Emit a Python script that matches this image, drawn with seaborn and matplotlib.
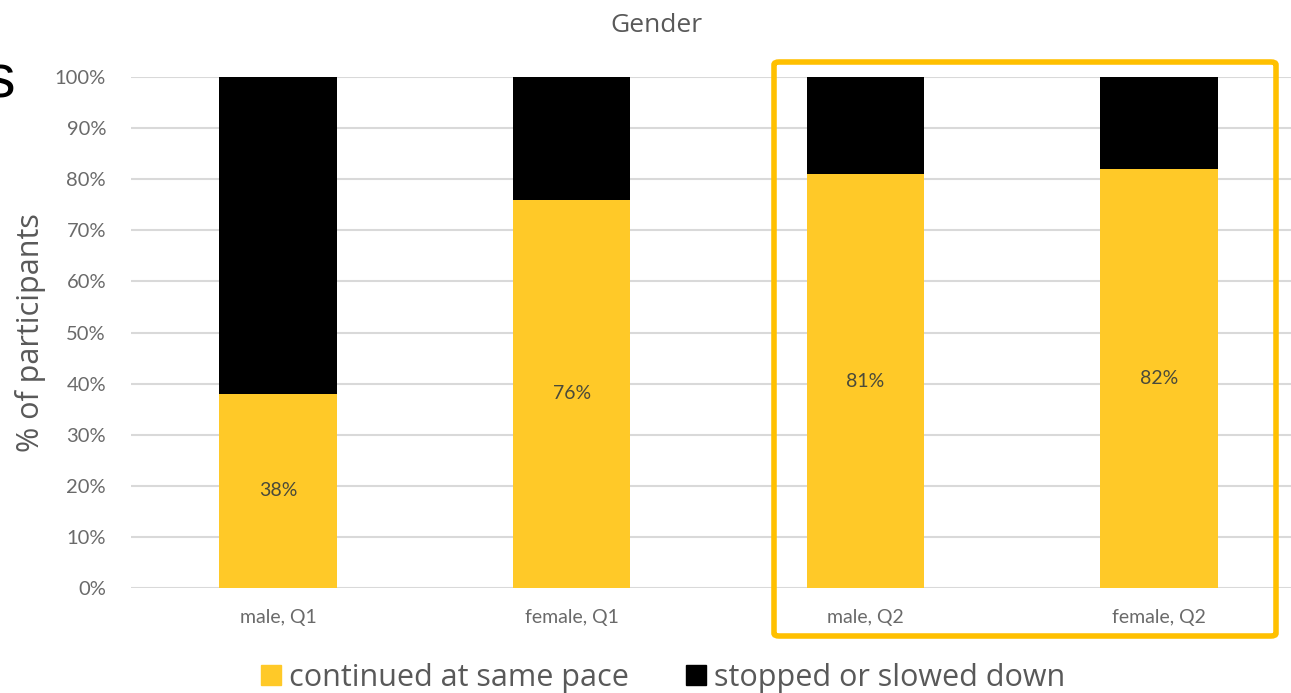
import matplotlib
matplotlib.use("Agg")
import matplotlib.pyplot as plt
from matplotlib.patches import FancyBboxPatch
from matplotlib.lines import Line2D
import seaborn as sns
import pandas as pd

# Survey responses by gender and quarter (% of participants)
groups = ["male, Q1", "female, Q1", "male, Q2", "female, Q2"]
continued = [38, 76, 81, 82]
stopped = [62, 24, 19, 18]
series_names = ["continued at same pace", "stopped or slowed down"]

YELLOW = "#FFC928"
BLACK = "#000000"
GREY = "#595959"
TICK_GREY = "#6a6a6a"

sns.set_theme(style="white")
plt.rcParams["font.family"] = ["Lato", "DejaVu Sans"]
HEAD_FONT = ["Open Sans", "DejaVu Sans"]

df = pd.DataFrame({"group": groups, "continued": continued, "stopped": stopped})
df["total"] = df["continued"] + df["stopped"]

fig = plt.figure(figsize=(12.91, 6.93), dpi=100)
ax = fig.add_axes([131 / 1291, 105 / 693, 1175 / 1291, 511 / 693])

# stacked: full-height black segment, yellow share drawn over it
sns.barplot(data=df, x="group", y="total", color=BLACK, width=0.4,
            saturation=1, linewidth=0, edgecolor="none", ax=ax, zorder=2)
sns.barplot(data=df, x="group", y="continued", color=YELLOW, width=0.4,
            saturation=1, linewidth=0, edgecolor="none", ax=ax, zorder=3)

ax.set_ylim(0, 100)
ax.set_xlim(-0.5, 3.5)
ax.set_yticks(range(0, 101, 10))
ax.set_yticklabels([f"{v}%" for v in range(0, 101, 10)])
ax.yaxis.grid(True, color="#d9d9d9", linewidth=1.5, zorder=0)
ax.set_axisbelow(True)
for s in ax.spines.values():
    s.set_visible(False)
ax.tick_params(axis="both", length=0, colors=TICK_GREY)
ax.tick_params(axis="x", labelsize=14, pad=15)
ax.tick_params(axis="y", labelsize=14.5, pad=18)
ax.set_xlabel("")
ax.set_ylabel("% of participants", fontsize=22, color=GREY, labelpad=6,
              family=HEAD_FONT)

# value labels centred in the yellow segments
for i, v in enumerate(continued):
    ax.text(i, v / 2, f"{v}%", ha="center", va="center", fontsize=14,
            color="#4a4a3a", zorder=4)

fig.text(656 / 1291, 1 - 25 / 693, "Gender", ha="center", va="center",
         fontsize=19, color=GREY, family=HEAD_FONT)

# large heading fragment at the left edge
fig.text(-0.012, 1 - 82 / 693, "s", ha="left", va="center", fontsize=44,
         color="black", family=["Liberation Sans", "DejaVu Sans"])

handles = [Line2D([], [], marker="s", linestyle="", markersize=14,
                  markerfacecolor=c, markeredgecolor=c) for c in (YELLOW, BLACK)]
fig.legend(handles, series_names, loc="center", ncol=2,
           bbox_to_anchor=(662 / 1291, 1 - 678 / 693), frameon=False,
           prop={"family": HEAD_FONT, "size": 22}, labelcolor=GREY,
           handletextpad=0.2, columnspacing=1.8, handlelength=0.8)

# highlight frame around the Q2 bars
box = FancyBboxPatch((774 / 1291, 1 - 636 / 693), (1276 - 774) / 1291,
                     (636 - 62) / 693, boxstyle="round,pad=0,rounding_size=0.004",
                     transform=fig.transFigure, fill=False, edgecolor="#FFC000",
                     linewidth=4, zorder=10)
fig.patches.append(box)

fig.savefig("out.png", dpi=100)
